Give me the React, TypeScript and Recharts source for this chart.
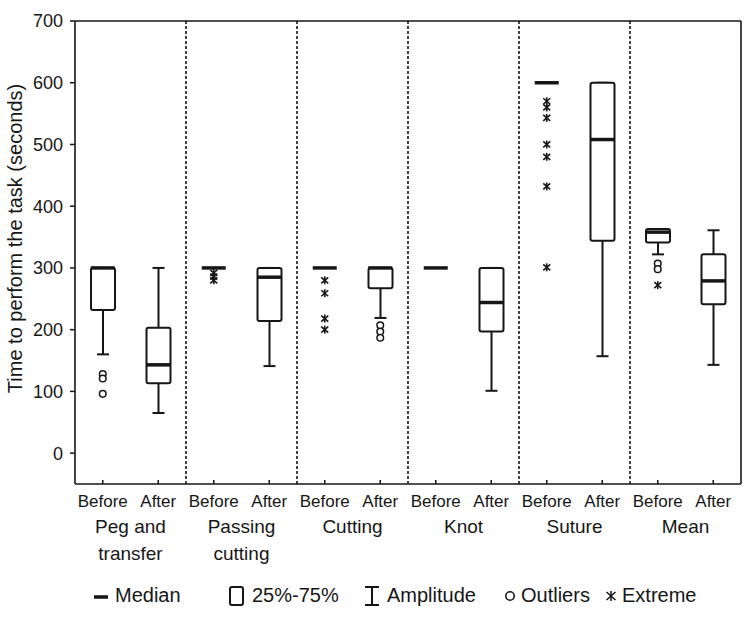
import React from 'react';
import { ComposedChart, Bar, Scatter, XAxis, YAxis, ReferenceLine, Legend, Label } from 'recharts';

const keys = ['peg-before', 'peg-after', 'passing-before', 'passing-after', 'cutting-before', 'cutting-after', 'knot-before', 'knot-after', 'suture-before', 'suture-after', 'mean-before', 'mean-after'];
const phases = ['Before', 'After', 'Before', 'After', 'Before', 'After', 'Before', 'After', 'Before', 'After', 'Before', 'After'];
const groupNames = ['Peg and transfer', 'Passing cutting', 'Cutting', 'Knot', 'Suture', 'Mean'];
const groupLines = [['Peg and', 'transfer'], ['Passing', 'cutting'], ['Cutting'], ['Knot'], ['Suture'], ['Mean']];
const rowGroups = ['Peg and transfer', 'Peg and transfer', 'Passing cutting', 'Passing cutting', 'Cutting', 'Cutting', 'Knot', 'Knot', 'Suture', 'Suture', 'Mean', 'Mean'];

const minVals = [160, 65, 300, 141, 300, 219, 300, 101, 600, 157, 322, 143];
const q1Vals = [232, 113, 300, 214, 300, 267, 300, 197, 600, 344, 341, 241];
const medianVals = [300, 143, 300, 285, 300, 300, 300, 244, 600, 508, 358, 279];
const q3Vals = [300, 203, 300, 300, 300, 300, 300, 300, 600, 600, 363, 322];
const maxVals = [300, 300, 300, 300, 300, 300, 300, 300, 600, 600, 363, 361];

const outlierPoints = [
  { key: 'peg-before', value: 128 },
  { key: 'peg-before', value: 121 },
  { key: 'peg-before', value: 96 },
  { key: 'cutting-after', value: 207 },
  { key: 'cutting-after', value: 197 },
  { key: 'cutting-after', value: 187 },
  { key: 'mean-before', value: 307 },
  { key: 'mean-before', value: 298 },
];

const extremePoints = [
  { key: 'passing-before', value: 292 },
  { key: 'passing-before', value: 286 },
  { key: 'passing-before', value: 280 },
  { key: 'cutting-before', value: 280 },
  { key: 'cutting-before', value: 259 },
  { key: 'cutting-before', value: 218 },
  { key: 'cutting-before', value: 200 },
  { key: 'suture-before', value: 570 },
  { key: 'suture-before', value: 560 },
  { key: 'suture-before', value: 543 },
  { key: 'suture-before', value: 500 },
  { key: 'suture-before', value: 480 },
  { key: 'suture-before', value: 432 },
  { key: 'suture-before', value: 301 },
  { key: 'mean-before', value: 272 },
];

const yTicks = [0, 100, 200, 300, 400, 500, 600, 700];
const legendLabels = ['Median', '25%-75%', 'Amplitude', 'Outliers', 'Extreme'];

const rows = keys.map((k, i) => ({
  key: k,
  phase: phases[i],
  group: rowGroups[i],
  min: minVals[i],
  q1: q1Vals[i],
  median: medianVals[i],
  q3: q3Vals[i],
  max: maxVals[i],
}));

const FONT = "'Liberation Sans', Arial, Helvetica, sans-serif";
const INK = '#161616';

const WhiskerShape = (props: any) => {
  const { x, y, width, height } = props;
  if (!(height > 0.5)) return null;
  const cx = x + width / 2;
  return (
    <g stroke={INK} strokeWidth={2}>
      <line x1={cx} x2={cx} y1={y} y2={y + height} />
      <line x1={cx - 6} x2={cx + 6} y1={y} y2={y} />
      <line x1={cx - 6} x2={cx + 6} y1={y + height} y2={y + height} />
    </g>
  );
};

const BoxShape = (props: any) => {
  const { x, y, width, height } = props;
  if (!(height > 0.5)) return null;
  return <rect x={x} y={y} width={width} height={height} fill="#fff" stroke={INK} strokeWidth={2} rx={2} />;
};

const MedianShape = (props: any) => {
  const { cx, cy } = props;
  if (cx == null || cy == null || isNaN(cy)) return null;
  return <line x1={cx - 12} x2={cx + 12} y1={cy} y2={cy} stroke={INK} strokeWidth={3.5} />;
};

const OutlierShape = (props: any) => {
  const { cx, cy } = props;
  if (cx == null || cy == null || isNaN(cy)) return null;
  return <circle cx={cx} cy={cy} r={3.3} fill="#fff" stroke={INK} strokeWidth={1.5} />;
};

const ExtremeShape = (props: any) => {
  const { cx, cy } = props;
  if (cx == null || cy == null || isNaN(cy)) return null;
  return (
    <g stroke={INK} strokeWidth={1.6}>
      <line x1={cx} x2={cx} y1={cy - 4} y2={cy + 4} />
      <line x1={cx - 3.5} x2={cx + 3.5} y1={cy - 3} y2={cy + 3} />
      <line x1={cx - 3.5} x2={cx + 3.5} y1={cy + 3} y2={cy - 3} />
    </g>
  );
};

const PhaseTick = (props: any) => {
  const { x, y, payload } = props;
  const i = keys.indexOf(payload.value);
  return (
    <g>
      <line x1={x} x2={x} y1={y - 4} y2={y} stroke={INK} strokeWidth={1.5} />
      <text x={x} y={y + 23} textAnchor="middle" fontSize={17} fontFamily={FONT} fill={INK}>
        {phases[i]}
      </text>
    </g>
  );
};

const GroupTick = (props: any) => {
  const { x, y, payload } = props;
  const i = groupNames.indexOf(payload.value);
  const lines = groupLines[i] || [String(payload.value)];
  return (
    <g>
      {lines.map((l, j) => (
        <text key={j} x={x} y={y + 25 + j * 27} textAnchor="middle" fontSize={19} fontFamily={FONT} fill={INK}>
          {l}
        </text>
      ))}
    </g>
  );
};

const YTitle = (props: any) => {
  const vb = props.viewBox || { x: 0, y: 21, width: 75, height: 463 };
  const cx = vb.x + 15;
  const cy = vb.y + vb.height / 2 - 14;
  return (
    <text
      x={cx}
      y={cy}
      transform={`rotate(-90 ${cx} ${cy})`}
      textAnchor="middle"
      dominantBaseline="central"
      fontSize={20}
      fontFamily={FONT}
      fill={INK}
    >
      Time to perform the task (seconds)
    </text>
  );
};

const legendLefts = [93, 228, 363, 503, 603];
const legendGaps = [6, 6, 6, 2, 3];

const LegendIcon = ({ kind }: { kind: number }) => {
  if (kind === 0)
    return (
      <svg width={16} height={22}>
        <line x1={1} x2={15} y1={12} y2={12} stroke={INK} strokeWidth={3.5} />
      </svg>
    );
  if (kind === 1)
    return (
      <svg width={18} height={22}>
        <rect x={2} y={2} width={13} height={18} rx={2} fill="#fff" stroke={INK} strokeWidth={2} />
      </svg>
    );
  if (kind === 2)
    return (
      <svg width={18} height={22}>
        <line x1={9} x2={9} y1={2} y2={20} stroke={INK} strokeWidth={2} />
        <line x1={2} x2={16} y1={2} y2={2} stroke={INK} strokeWidth={2} />
        <line x1={2} x2={16} y1={20} y2={20} stroke={INK} strokeWidth={2} />
      </svg>
    );
  if (kind === 3)
    return (
      <svg width={16} height={22}>
        <circle cx={7} cy={11} r={4.2} fill="#fff" stroke={INK} strokeWidth={1.6} />
      </svg>
    );
  return (
    <svg width={16} height={22}>
      <g stroke={INK} strokeWidth={1.5}>
        <line x1={8} x2={8} y1={6} y2={16} />
        <line x1={3.5} x2={12.5} y1={7} y2={15} />
        <line x1={3.5} x2={12.5} y1={15} y2={7} />
      </g>
    </svg>
  );
};

const LegendContent = () => (
  <div style={{ position: 'relative', height: 51, width: 741, fontFamily: FONT, fontSize: 20, color: INK }}>
    {legendLabels.map((label, i) => (
      <div
        key={label}
        style={{ position: 'absolute', left: legendLefts[i], top: 16, display: 'flex', alignItems: 'center', lineHeight: '23px', whiteSpace: 'nowrap' }}
      >
        <LegendIcon kind={i} />
        <span style={{ marginLeft: legendGaps[i] }}>{label}</span>
      </div>
    ))}
  </div>
);

export default function App() {
  return (
    <div style={{ position: 'absolute', left: 0, top: 0, width: 750, height: 619, background: '#fff' }}>
      <ComposedChart
        width={750}
        height={619}
        data={rows}
        margin={{ top: 21, right: 9, left: 0, bottom: 0 }}
        barGap={-24}
      >
        <XAxis
          dataKey="key"
          allowDuplicatedCategory={false}
          interval={0}
          tickSize={0}
          tickMargin={0}
          tickLine={false}
          height={24}
          axisLine={{ stroke: INK, strokeWidth: 1.6 }}
          tick={<PhaseTick />}
        />
        <XAxis
          xAxisId="group"
          dataKey="group"
          allowDuplicatedCategory={false}
          interval={0}
          tickSize={0}
          tickMargin={0}
          tickLine={false}
          axisLine={false}
          height={60}
          tick={<GroupTick />}
        />
        <YAxis
          type="number"
          domain={[-50, 700]}
          ticks={yTicks}
          interval={0}
          width={75}
          tickSize={5}
          tickMargin={7}
          tick={{ fontSize: 18, fontFamily: FONT, fill: INK }}
          tickLine={{ stroke: INK, strokeWidth: 1.5 }}
          axisLine={{ stroke: INK, strokeWidth: 1.6 }}
        >
          <Label content={<YTitle />} />
        </YAxis>
        <ReferenceLine y={700} stroke={INK} strokeWidth={1.6} />
        <ReferenceLine x="mean-after" position="end" stroke={INK} strokeWidth={1.6} />
        {groupNames.slice(1).map((g) => (
          <ReferenceLine key={g} xAxisId="group" x={g} position="start" stroke={INK} strokeWidth={1.6} strokeDasharray="3 2" />
        ))}
        <Bar dataKey={(d: any) => [d.min, d.max]} barSize={24} shape={<WhiskerShape />} isAnimationActive={false} />
        <Bar dataKey={(d: any) => [d.q1, d.q3]} barSize={24} shape={<BoxShape />} isAnimationActive={false} />
        <Scatter dataKey="median" shape={<MedianShape />} isAnimationActive={false} />
        <Scatter data={outlierPoints} dataKey="value" shape={<OutlierShape />} isAnimationActive={false} />
        <Scatter data={extremePoints} dataKey="value" shape={<ExtremeShape />} isAnimationActive={false} />
        <Legend verticalAlign="bottom" content={<LegendContent />} />
      </ComposedChart>
    </div>
  );
}
